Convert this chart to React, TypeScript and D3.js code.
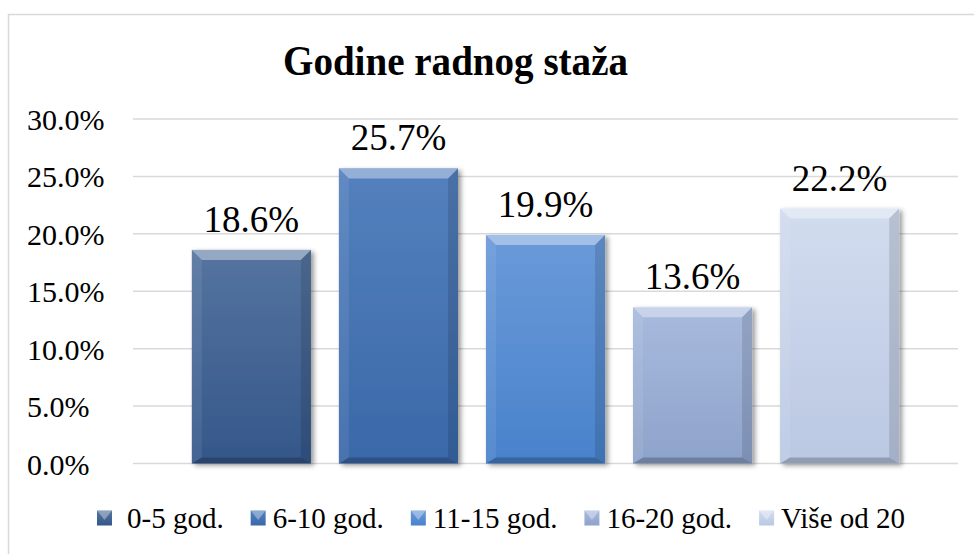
import { useEffect, useRef } from "react"
import * as d3 from "d3"

const categories = ["0-5 god.", "6-10 god.", "11-15 god.", "16-20 god.", "Više od 20"]
const values = [0.186, 0.257, 0.199, 0.136, 0.222]
const yTicks = [0, 0.05, 0.1, 0.15, 0.2, 0.25, 0.3]
const title = "Godine radnog staža"

// bar colours, light (top) to dark (bottom)
const topColors = ["#55749f", "#5480be", "#6a9ad9", "#a8badd", "#d2dcef"]
const bottomColors = ["#34578a", "#3a68a8", "#4982cb", "#8ea3cb", "#bac8e2"]

const W = 974
const H = 554
const FONT = "'Liberation Serif', 'Times New Roman', serif"

export default function App() {
    const svgRef = useRef<SVGSVGElement>(null)

    useEffect(() => {
        const svg = d3.select(svgRef.current)
        svg.selectAll("*").remove()

        const margin = { left: 133, right: 16, top: 119, bottom: 90.5 }

        const x = d3.scaleBand()
            .domain(categories)
            .range([margin.left, W - margin.right])
            .paddingInner(0.19)
            .paddingOuter(0.4)

        const y = d3.scaleLinear()
            .domain([0, 0.3])
            .range([H - margin.bottom, margin.top])

        const fmt = d3.format(".1%")

        const defs = svg.append("defs")
        categories.forEach((c, i) => {
            const g = defs.append("linearGradient")
                .attr("id", `grad${i}`)
                .attr("x1", 0).attr("y1", 0).attr("x2", 0).attr("y2", 1)
            g.append("stop").attr("offset", "0%").attr("stop-color", topColors[i])
            g.append("stop").attr("offset", "100%").attr("stop-color", bottomColors[i])
        })
        const filter = defs.append("filter")
            .attr("id", "shadow")
            .attr("x", "-10%").attr("y", "-10%")
            .attr("width", "130%").attr("height", "130%")
        filter.append("feDropShadow")
            .attr("dx", 3).attr("dy", 2)
            .attr("stdDeviation", 2.5)
            .attr("flood-color", "#000")
            .attr("flood-opacity", 0.4)

        // chart area border
        svg.append("rect")
            .attr("x", 8.5).attr("y", 14.5)
            .attr("width", W + 20).attr("height", H + 20)
            .attr("fill", "#fff")
            .attr("stroke", "#d9d9d9")
            .attr("stroke-width", 1.5)

        // gridlines
        svg.append("g")
            .selectAll("line")
            .data(yTicks)
            .join("line")
                .attr("x1", margin.left)
                .attr("x2", W - margin.right)
                .attr("y1", d => y(d))
                .attr("y2", d => y(d))
                .attr("stroke", "#d9d9d9")
                .attr("stroke-width", 1.5)

        // y labels
        svg.append("g")
            .selectAll("text")
            .data(yTicks)
            .join("text")
                .attr("x", 27)
                .attr("y", d => y(d) + 11)
                .attr("font-family", FONT)
                .attr("font-size", 30)
                .attr("fill", "#000")
                .text(d => fmt(d))

        // bars
        const bev = 10
        const bars = svg.append("g")
            .selectAll("g")
            .data(values)
            .join("g")

        bars.append("rect")
            .attr("x", (d, i) => x(categories[i])!)
            .attr("y", d => y(d))
            .attr("width", x.bandwidth())
            .attr("height", d => y(0) - y(d))
            .attr("fill", (d, i) => `url(#grad${i})`)
            .attr("filter", "url(#shadow)")

        const facet = (pts: (d: number, i: number) => [number, number][], fill: string, op: number) => {
            bars.append("polygon")
                .attr("points", (d, i) => pts(d, i).map(p => p.join(",")).join(" "))
                .attr("fill", fill)
                .attr("opacity", op)
        }
        const edges = (d: number, i: number) => {
            const x0 = x(categories[i])!
            const x1 = x0 + x.bandwidth()
            const y0 = y(d)
            const y1 = y(0)
            return { x0, x1, y0, y1 }
        }
        // top bevel
        facet((d, i) => {
            const e = edges(d, i)
            return [[e.x0, e.y0], [e.x1, e.y0], [e.x1 - bev, e.y0 + bev], [e.x0 + bev, e.y0 + bev]]
        }, "#fff", 0.38)
        // left bevel
        facet((d, i) => {
            const e = edges(d, i)
            return [[e.x0, e.y0], [e.x0 + bev, e.y0 + bev], [e.x0 + bev, e.y1 - bev * 0.6], [e.x0, e.y1]]
        }, "#fff", 0.08)
        // right bevel
        facet((d, i) => {
            const e = edges(d, i)
            return [[e.x1, e.y0], [e.x1 - bev, e.y0 + bev], [e.x1 - bev, e.y1 - bev * 0.6], [e.x1, e.y1]]
        }, "#000", 0.12)
        // bottom bevel
        facet((d, i) => {
            const e = edges(d, i)
            return [[e.x0, e.y1], [e.x0 + bev, e.y1 - bev * 0.6], [e.x1 - bev, e.y1 - bev * 0.6], [e.x1, e.y1]]
        }, "#000", 0.22)

        // data labels
        svg.append("g")
            .selectAll("text")
            .data(values)
            .join("text")
                .attr("x", (d, i) => x(categories[i])! + x.bandwidth() / 2)
                .attr("y", d => y(d) - 18)
                .attr("text-anchor", "middle")
                .attr("font-family", FONT)
                .attr("font-size", 37)
                .attr("fill", "#000")
                .text(d => fmt(d))

        // title
        svg.append("text")
            .attr("x", 455.5)
            .attr("y", 75)
            .attr("text-anchor", "middle")
            .attr("font-family", FONT)
            .attr("font-weight", "bold")
            .attr("font-size", 43)
            .attr("textLength", 345)
            .attr("lengthAdjust", "spacingAndGlyphs")
            .attr("fill", "#000")
            .text(title)

        // legend
        const legend = svg.append("g")
        const items = categories.map((c, i) => {
            const g = legend.append("g")
            g.append("rect")
                .attr("width", 15).attr("height", 15)
                .attr("y", -7.5)
                .attr("fill", `url(#grad${i})`)
            g.append("polygon")
                .attr("points", "0,-7.5 15,-7.5 7.5,2")
                .attr("fill", "#fff")
                .attr("opacity", 0.35)
            const t = g.append("text")
                .attr("x", i === 0 ? 30 : 22)
                .attr("y", 10)
                .attr("font-family", FONT)
                .attr("font-size", 29)
                .attr("fill", "#000")
                .text(c)
            const w = (t.node() as SVGTextElement).getComputedTextLength() + (i === 0 ? 30 : 22)
            return { g, w }
        })
        const gap = 27
        const total = d3.sum(items, d => d.w) + gap * (items.length - 1)
        let cx = 501 - total / 2
        items.forEach(it => {
            it.g.attr("transform", `translate(${cx},518)`)
            cx += it.w + gap
        })
    }, [])

    return (
        <svg
            ref={svgRef}
            width={W}
            height={H}
            style={{ position: "absolute", left: 0, top: 0, background: "#fff" }}
        />
    )
}
